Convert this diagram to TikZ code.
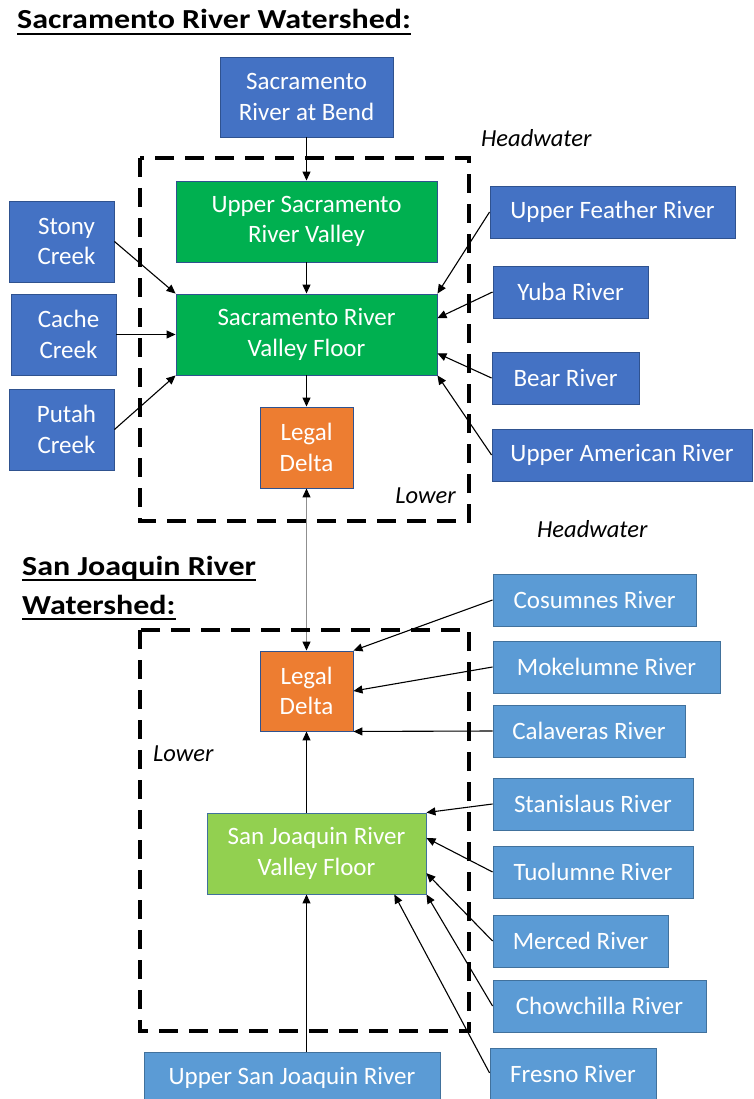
\documentclass[tikz,border=0pt]{standalone}
\usepackage{fontspec}
\setmainfont{Carlito}
\usetikzlibrary{arrows.meta,calc}
\definecolor{sacblue}{HTML}{4472C4}
\definecolor{sacedge}{HTML}{2F528F}
\definecolor{sjblue}{HTML}{5B9BD5}
\definecolor{sjedge}{HTML}{41719C}
\definecolor{sacgreen}{HTML}{00B050}
\definecolor{sjgreen}{HTML}{92D050}
\definecolor{deltaorange}{HTML}{ED7D31}
\definecolor{linkgray}{HTML}{8F8F8F}
\begin{document}
\begin{tikzpicture}[x=1pt,y=-1pt,
  box/.style={draw, line width=0.9pt, text=white, align=center, inner sep=0pt,
    font=\fontsize{25}{30.5}\selectfont},
  sacbox/.style={box, fill=sacblue, draw=sacedge},
  sjbox/.style={box, fill=sjblue, draw=sjedge},
  greenbox/.style={box, fill=sacgreen, draw=sacedge},
  lgreenbox/.style={box, fill=sjgreen, draw=sjedge},
  deltabox/.style={box, fill=deltaorange, draw=sacedge},
  tall/.style={minimum height=81},
  flat/.style={minimum height=52},
  arr/.style={line width=1.1pt, -{Triangle[length=9pt,width=8pt]}},
  region/.style={line width=4pt, dash pattern=on 19pt off 11pt},
  tag/.style={font=\fontsize{24.5}{29}\selectfont\itshape, inner sep=0pt},
  heading/.style={font=\fontsize{32}{39}\selectfont\bfseries, inner sep=0pt},
  uline/.style={line width=2.5pt}
]
\useasboundingbox (0,0) rectangle (754,1099);
\clip (0,0) rectangle (754,1099);
\fill[white] (0,0) rectangle (754,1099);

% ---------- Sacramento River Watershed ----------
\node[heading, anchor=base west] (h1) at (17,29) {\scalebox{1}[0.86]{Sacramento River Watershed:}};
\draw[uline] ($(h1.base west)+(0,5)$) -- ($(h1.base east)+(0,5)$);

\node[sacbox, tall, minimum width=173, minimum height=80] (bend) at (306.5,97) {Sacramento\\River at Bend};
\node[greenbox, tall, minimum width=261] (usv) at (306.5,221.5) {Upper Sacramento\\River Valley};
\node[greenbox, tall, minimum width=261] (svf) at (306.5,334.5) {Sacramento River\\Valley Floor};
\node[deltabox, tall, minimum width=93] (ld1) at (306.5,447.5) {Legal\\Delta};

\node[sacbox, tall, minimum width=105] (stony) at (61.5,241.5) {\hspace*{10pt}Stony\\\hspace*{10pt}Creek};
\node[sacbox, tall, minimum width=105] (cache) at (63.5,334.5) {\hspace*{10pt}Cache\\\hspace*{10pt}Creek};
\node[sacbox, tall, minimum width=105] (putah) at (61.5,429.5) {\hspace*{10pt}Putah\\\hspace*{10pt}Creek};

\node[sacbox, flat, minimum width=245] (feather) at (612.5,212) {Upper Feather River};
\node[sacbox, flat, minimum width=155] (yuba) at (570.5,292) {Yuba River};
\node[sacbox, flat, minimum width=147] (bear) at (565.5,378) {Bear River};
\node[sacbox, flat, minimum width=260] (american) at (622,455) {Upper American River};

\node[tag, anchor=base west] (hw1) at (481,147) {Headwater};
\node[tag, anchor=base east] (lw1) at (456,503) {Lower};

\draw[arr] (bend.south) -- (usv.north);
\draw[arr] (usv.south) -- (svf.north);
\draw[arr] (svf.south) -- (ld1.north);
\draw[arr] (stony.east) -- (svf.north west);
\draw[arr] (cache.east) -- (svf.west);
\draw[arr] (putah.east) -- (svf.south west);
\draw[arr] (feather.west) -- (svf.north east);
\draw[arr] (yuba.west) -- ($(svf.north east)!0.3!(svf.south east)$);
\draw[arr] (bear.west) -- ($(svf.north east)!0.73!(svf.south east)$);
\draw[arr] (american.west) -- (svf.south east);

% ---------- San Joaquin River Watershed ----------
\node[heading, anchor=base west] (h2) at (22,575) {\scalebox{1}[0.86]{San Joaquin River}};
\draw[uline] ($(h2.base west)+(0,5)$) -- ($(h2.base east)+(0,5)$);
\node[heading, anchor=base west] (h3) at (22,614) {\scalebox{1}[0.86]{Watershed:}};
\draw[uline] ($(h3.base west)+(0,5)$) -- ($(h3.base east)+(0,5)$);

\node[deltabox, minimum width=93, minimum height=80] (ld2) at (306.5,691) {Legal\\Delta};
\node[lgreenbox, tall, minimum width=219] (sjvf) at (316.5,853.5) {San Joaquin River\\Valley Floor};

\node[sjbox, flat, minimum width=203] (cosumnes) at (594.5,600) {Cosumnes River};
\node[sjbox, flat, minimum width=227] (mokelumne) at (606.5,667) {Mokelumne River};
\node[sjbox, flat, minimum width=192] (calaveras) at (589,731) {Calaveras River};
\node[sjbox, flat, minimum width=200] (stanislaus) at (593,804) {Stanislaus River};
\node[sjbox, flat, minimum width=200] (tuolumne) at (593,872) {Tuolumne River};
\node[sjbox, flat, minimum width=175] (merced) at (580.5,941) {Merced River};
\node[sjbox, flat, minimum width=213] (chowchilla) at (599.5,1006) {Chowchilla River};
\node[sjbox, flat, minimum width=166] (fresno) at (573,1074) {Fresno River};
\node[sjbox, flat, minimum width=296] (usj) at (292,1078) {Upper San Joaquin River};

\node[tag, anchor=base west] (hw2) at (537,537) {Headwater};
\node[tag, anchor=base west] (lw2) at (153,761) {Lower};

\draw[line width=1.1pt, linkgray,
  {Triangle[length=9pt,width=8pt,color=black]}-{Triangle[length=9pt,width=8pt,color=black]}]
  (ld1.south) -- (ld2.north);
\draw[arr] (sjvf.north -| ld2.south) -- (ld2.south);
\draw[arr] (usj.north -| ld2.south) -- (sjvf.south -| ld2.south);
\draw[arr] (cosumnes.west) -- (ld2.north east);
\draw[arr] (mokelumne.west) -- (ld2.east);
\draw[arr] (calaveras.west) -- (ld2.south east);
\draw[arr] (stanislaus.west) -- (sjvf.north east);
\draw[arr] (tuolumne.west) -- ($(sjvf.north east)!0.31!(sjvf.south east)$);
\draw[arr] (merced.west) -- ($(sjvf.north east)!0.74!(sjvf.south east)$);
\draw[arr] (chowchilla.west) -- (sjvf.south east);
\draw[arr] ($(fresno.north west)!0.48!(fresno.south west)$) -- ($(sjvf.south west)!0.854!(sjvf.south east)$);

% ---------- dashed regions ----------
\draw[region] (140,158) rectangle (469,521);
\draw[region] (140,630) rectangle (469,1031);
\end{tikzpicture}
\end{document}
